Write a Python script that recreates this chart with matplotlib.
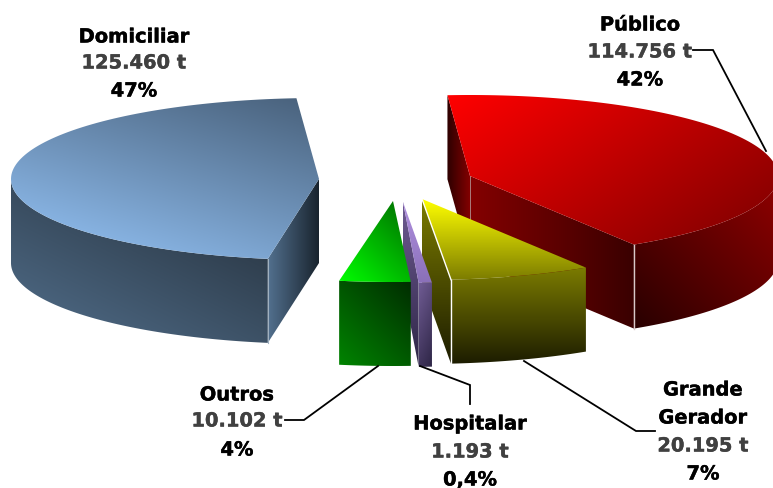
import numpy as np
import matplotlib
matplotlib.use('Agg')
import matplotlib.pyplot as plt
import matplotlib.patheffects as pe
from matplotlib.patches import Polygon
from matplotlib.colors import to_rgb

# values in tonnes, in clockwise pie order
names = ['Público', 'Grande\nGerador', 'Hospitalar', 'Outros', 'Domiciliar']
values = [114756, 20195, 1193, 10102, 125460]
value_labels = ['114.756 t', '20.195 t', '1.193 t', '10.102 t', '125.460 t']
pct_labels = ['42%', '7%', '0,4%', '4%', '47%']

# pie shape, pixels
RX, RY, DEPTH = 308, 81, 84
START = 94.2
apex = [(470, 177), (422, 200), (403, 203), (393, 202), (319, 180)]
# the very thin slices are drawn slightly wider than their share
spread = [(0, 0), (0, 0), (0, 0.9), (-0.5, 0.5), (0, 0)]

# text centre x, then y of each line
label_pos = [(640, [26, 53, 81]), (703, [391, 419, 447, 475]), (470, [425, 453, 481]),
             (237, [396, 422, 451]), (134, [38, 64, 92])]
leaders = [[(693, 51), (713, 51), (766, 152)],
           [(524, 362), (636, 432), (655, 432)],
           [(420, 367), (470, 386), (470, 405)],
           [(285, 421), (304, 421), (378, 367)]]

fig = plt.figure(figsize=(7.73, 4.89), dpi=100)
ax = fig.add_axes([0, 0, 1, 1])
z = [1]


def grad_poly(pts, c0, c1, direction):
    # fill polygon with a linear gradient running along direction
    pts = np.array(pts)
    x0, y0 = pts.min(axis=0)
    x1, y1 = pts.max(axis=0)
    X, Y = np.meshgrid(np.linspace(x0, x1, 200), np.linspace(y0, y1, 200))
    t = X * direction[0] + Y * direction[1]
    t = (t - t.min()) / max(t.max() - t.min(), 1e-6)
    c0, c1 = np.array(to_rgb(c0)), np.array(to_rgb(c1))
    img = c0 + (c1 - c0) * t[..., None]
    im = ax.imshow(img, extent=(x0, x1, y1, y0), aspect='auto', zorder=z[0])
    im.set_clip_path(Polygon(pts, closed=True, transform=ax.transData))
    z[0] += 1


def arc(cx, cy, a0, a1):
    th = np.radians(np.linspace(a0, a1, 120))
    return np.column_stack([cx + RX * np.cos(th), cy - RY * np.sin(th)])


def extrude(edge):
    edge = np.array(edge)
    return list(edge) + list(edge[::-1] + np.array([0, DEPTH]))


def seam(x0, y0, x1, y1, color, lw):
    ax.plot([x0, x1], [y0, y1], color=color, lw=lw, zorder=z[0])
    z[0] += 1


total = sum(values)
sweeps = [v / total * 360 for v in values]
bounds = START - np.concatenate([[0], np.cumsum(sweeps)])

# slice corners: a0 / a1 are the clockwise start and end angles
angles = [(bounds[i] + spread[i][0], bounds[i + 1] - spread[i][1]) for i in range(5)]


def corners(i):
    cx, cy = apex[i]
    a0, a1 = angles[i]
    rim = arc(cx, cy, a0, a1)
    return np.array([cx, cy], dtype=float), rim, rim[0], rim[-1]


# Domiciliar
c, rim, p0, p1 = corners(4)
grad_poly(extrude(arc(c[0], c[1], angles[4][0], -180)), '#526f8c', '#222c36', (1, -2))
grad_poly(extrude([p0, c]), '#52708e', '#18222c', (1, 0))
grad_poly(np.vstack([c, rim]), '#96c6fa', '#48607a', (1, -3.2))
seam(p0[0], p0[1], p0[0], p0[1] + DEPTH, '#9fb0c0', 0.8)

# Público
c, rim, p0, p1 = corners(0)
grad_poly(extrude([p0, c]), '#2c0000', '#820000', (1, 0))
grad_poly(extrude(arc(c[0], c[1], 0, angles[0][1])), '#920000', '#280000', (-1, 1))
grad_poly(extrude([c, p1]), '#840000', '#3a0000', (1, 0))
grad_poly(np.vstack([c, rim]), '#ff0000', '#7a0000', (1, 1.5))
seam(p1[0], p1[1], p1[0], p1[1] + DEPTH, '#d8c8c8', 1)
seam(c[0], c[1], c[0], c[1] + DEPTH, '#b09090', 0.6)

# Grande Gerador
c, rim, p0, p1 = corners(1)
grad_poly(extrude([c, p1]), '#7c7c00', '#1c1c00', (0, 1))
grad_poly(extrude(rim), '#7c7c00', '#1c1c00', (0, 1))
grad_poly(np.vstack([c, rim]), '#ffff00', '#7c7c00', (0, 1))
seam(c[0], c[1], p1[0], p1[1], 'white', 1)
seam(p1[0], p1[1], p1[0], p1[1] + DEPTH, 'white', 1)

# Hospitalar
c, rim, p0, p1 = corners(2)
grad_poly(extrude([c, p1]), '#6e5a92', '#2e2646', (0, 1))
grad_poly(extrude(rim), '#705c94', '#2c2444', (1, 0.4))
grad_poly(np.vstack([c, rim]), '#b090e0', '#8a70b8', (0, 1))

# Outros
c, rim, p0, p1 = corners(3)
grad_poly(extrude(rim), '#008400', '#002c00', (1, -1))
grad_poly(np.vstack([c, rim]), '#00ff00', '#006a00', (1, -1))

for line in leaders:
    xs, ys = zip(*line)
    ax.plot(xs, ys, color='black', lw=1.3, zorder=z[0], solid_joinstyle='miter')

# labels
for i, name in enumerate(names):
    x, ys = label_pos[i]
    lines = name.split('\n') + [value_labels[i], pct_labels[i]]
    colors = ['black'] * len(name.split('\n')) + ['#404040', 'black']
    for s, y, col in zip(lines, ys, colors):
        t = ax.text(x, y, s, ha='center', va='center', fontsize=14, fontweight='bold',
                    family='DejaVu Sans', color=col, zorder=z[0] + 1)
        t.set_path_effects([pe.withStroke(linewidth=0.3, foreground=col)])

ax.set_xlim(0, 773)
ax.set_ylim(489, 0)
ax.axis('off')
fig.savefig('out.png', dpi=100, facecolor='white')
